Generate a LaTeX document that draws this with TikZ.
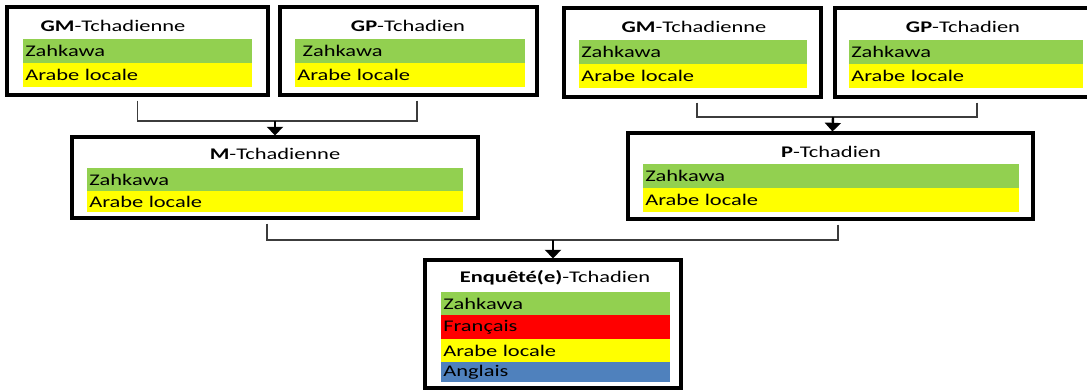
\documentclass[tikz,border=0pt]{standalone}
\usepackage{fontspec}
\setmainfont[FakeStretch=1.38]{Carlito}
\usetikzlibrary{arrows.meta,fit,calc}
\definecolor{zgreen}{RGB}{146,208,80}
\definecolor{zyellow}{RGB}{255,255,0}
\definecolor{zred}{RGB}{255,0,0}
\definecolor{zblue}{RGB}{79,129,189}
\definecolor{linkgray}{RGB}{60,60,60}
\tikzset{
  famBox/.style={draw=black, line width=2.3pt, inner sep=0pt, fill=white},
  band/.style={anchor=north west, inner xsep=1.5pt, inner ysep=0pt,
               minimum height=17.6pt, align=left, text=black},
  boxTitle/.style={inner sep=0pt, text=black},
  link/.style={draw=linkgray, line width=0.8pt, shorten <=3pt},
  flow/.style={draw=black, line width=1.8pt,
               -{Triangle[width=12pt,length=6.5pt]}},
}
\begin{document}
\fontsize{12.2pt}{14pt}\selectfont
\begin{tikzpicture}[x=0.75pt,y=-0.75pt]
\useasboundingbox (0,0) rectangle (1087,389);
\clip (0,0) rectangle (1087,389);
\fill[white] (0,0) rectangle (1087,389);

% --- grandparents, maternal side
\node[famBox, fit={(7,7) (268,95)}] (gml) {};
\node[boxTitle] (gml-t) at (113,26) {\textbf{GM}-Tchadienne};
\node[band, fill=zgreen,  text width=168.75pt] (gml-z) at (23,39) {Zahkawa};
\node[band, fill=zyellow, text width=168.75pt] (gml-a) at (23,63) {Arabe locale};

\node[famBox, fit={(280,7) (537,95)}] (gpl) {};
\node[boxTitle] (gpl-t) at (408,26) {\textbf{GP}-Tchadien};
\node[band, fill=zgreen,  text width=169.5pt] (gpl-z) at (295,39) {\ Zahkawa};
\node[band, fill=zyellow, text width=169.5pt] (gpl-a) at (295,63) {Arabe locale};

% --- grandparents, paternal side
\node[famBox, fit={(564,8) (821,97)}] (gmr) {};
\node[boxTitle] (gmr-t) at (694,27) {\textbf{GM}-Tchadienne};
\node[band, fill=zgreen,  text width=168pt] (gmr-z) at (579,40) {Zahkawa};
\node[band, fill=zyellow, text width=168pt] (gmr-a) at (579,64) {Arabe locale};

\node[famBox, fit={(835,8) (1096,97)}] (gpr) {};
\node[boxTitle] (gpr-t) at (963,27) {\textbf{GP}-Tchadien};
\node[band, fill=zgreen,  text width=172.5pt] (gpr-z) at (849,40) {Zahkawa};
\node[band, fill=zyellow, text width=172.5pt] (gpr-a) at (849,64) {Arabe locale};

% --- parents
\node[famBox, fit={(72,137) (478,218)}] (mom) {};
\node[boxTitle] (mom-t) at (275,154) {\textbf{M}-Tchadienne};
\node[band, fill=zgreen,  text width=279pt, minimum height=17.25pt] (mom-z) at (87,168) {Zahkawa};
\node[band, fill=zyellow, text width=279pt, minimum height=15.75pt] (mom-a) at (87,191) {Arabe locale};

\node[famBox, fit={(628,133) (1033,219)}] (dad) {};
\node[boxTitle] (dad-t) at (831,152) {\textbf{P}-Tchadien};
\node[band, fill=zgreen,  text width=279pt] (dad-z) at (643,164) {Zahkawa};
\node[band, fill=zyellow, text width=279pt] (dad-a) at (643,188) {Arabe locale};

% --- respondent
\node[famBox, fit={(425,260) (681,388)}] (resp) {};
\node[boxTitle] (resp-t) at (555,278) {\textbf{Enquêté(e)}-Tchadien};
\node[band, fill=zgreen,  text width=168.75pt, minimum height=17.25pt] (resp-z) at (441,292) {Zahkawa};
\node[band, fill=zred,    text width=168.75pt, minimum height=18pt]    (resp-f) at (441,315) {Français};
\node[band, fill=zyellow, text width=168.75pt, minimum height=17.25pt] (resp-a) at (441,339) {Arabe locale};
\node[band, fill=zblue,   text width=168.75pt, minimum height=15pt]    (resp-e) at (441,362) {Anglais};

% --- connectors
\coordinate (jm) at (275,121);
\draw[link] (gml.south) |- (jm);
\draw[link] ($(gpl.south)+(8.5,0)$) |- (jm);
\draw[flow] (jm) -- (mom.north);

\coordinate (jp) at (833,117);
\draw[link] ($(gmr.south)+(4.5,0)$) |- (jp);
\draw[link] ($(gpr.south)+(11.5,0)$) |- (jp);
\draw[flow] (jp) -- ($(dad.north)+(2,0)$);

\coordinate (jr) at (553,240);
\draw[link] ($(mom.south)+(-8,0)$) |- (jr);
\draw[link] ($(dad.south)+(7.5,0)$) |- (jr);
\draw[flow] (jr) -- (resp.north);
\end{tikzpicture}
\end{document}
